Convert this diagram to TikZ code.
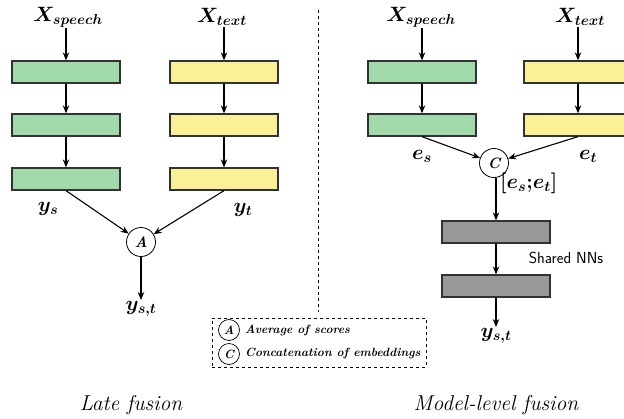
\documentclass[tikz,border=0pt]{standalone}
\usetikzlibrary{arrows.meta,calc}
\DeclareMathSizes{20}{20}{15}{12}
\definecolor{boxgreen}{RGB}{160,218,170}
\definecolor{boxyellow}{RGB}{250,240,150}
\definecolor{boxgray}{RGB}{152,152,152}
\definecolor{edgec}{RGB}{50,50,50}
\begin{document}
\begin{tikzpicture}[x=1pt,y=-1pt,
  layer/.style={draw=edgec,line width=1.3pt,minimum width=108pt,minimum height=22pt,inner sep=0pt},
  gbox/.style={layer,fill=boxgreen},
  ybox/.style={layer,fill=boxyellow},
  sbox/.style={layer,fill=boxgray},
  conn/.style={line width=1.1pt,-{Stealth[length=8pt,width=6.5pt]}},
  op/.style={circle,draw,line width=0.8pt,minimum size=29pt,inner sep=0pt,font=\fontsize{15}{17}\selectfont\bfseries\itshape},
  legop/.style={circle,draw,line width=0.7pt,minimum size=21pt,inner sep=0pt,font=\fontsize{12}{14}\selectfont\bfseries\itshape},
  lab/.style={inner sep=1pt,font=\boldmath\fontsize{20}{24}\selectfont},
  captext/.style={font=\itshape\fontsize{21.5}{25}\selectfont},
  legtext/.style={anchor=west,inner sep=0pt,font=\bfseries\itshape\fontsize{11.9}{14}\selectfont}
]
\clip (0,0) rectangle (624,418);
\fill[white] (0,0) rectangle (624,418);

% ---------- Late fusion ----------
\node[lab] (xs1) at (68,17) {$X_{speech}$};
\node[lab] (xt1) at (222,17) {$X_{text}$};
\node[gbox] (g1) at (66,72) {};
\node[gbox] (g2) at (66,125) {};
\node[gbox] (g3) at (66,179) {};
\node[ybox] (y1) at (224,72) {};
\node[ybox] (y2) at (224,125) {};
\node[ybox] (y3) at (224,179) {};
\draw[conn] (xs1.south -| g1.north) -- (g1.north);
\draw[conn] (g1) -- (g2);
\draw[conn] (g2) -- (g3);
\draw[conn] (xt1.south -| y1.north) -- (y1.north);
\draw[conn] (y1) -- (y2);
\draw[conn] (y2) -- (y3);
\node[op] (A) at (141,242) {A};
\draw[conn] (g3.south) -- (A);
\draw[conn] (y3.south) -- (A);
\node[lab] (ys) at (48,209) {$y_s$};
\node[lab] (yt) at (243,210) {$y_t$};
\node[lab,anchor=north] (yst1) at (141,300) {$y_{s,t}$};
\draw[conn] (A) -- (yst1.north);
\node[captext] (late) at (131,405) {Late fusion};

% ---------- separator ----------
\coordinate (sepT) at (318,10);
\coordinate (sepB) at (318,312);
\draw[dashed,line width=0.7pt] (sepT) -- (sepB);

% ---------- Legend ----------
\node[draw,dashed,line width=0.7pt,minimum width=214pt,minimum height=49pt,inner sep=0pt] (leg) at (319,342.5) {};
\node[legop] (la) at (229,330) {A};
\node[legop] (lc) at (229,354) {C};
\node[legtext] (lat) at (245,330) {Average of scores};
\node[legtext] (lct) at (245,354) {Concatenation of embeddings};

% ---------- Model-level fusion ----------
\node[lab] (xs2) at (421,17) {$X_{speech}$};
\node[lab] (xt2) at (580,17) {$X_{text}$};
\node[gbox] (rg1) at (422,72) {};
\node[gbox] (rg2) at (422,125) {};
\node[ybox] (ry1) at (578,72) {};
\node[ybox] (ry2) at (578,125) {};
\draw[conn] (xs2.south -| rg1.north) -- (rg1.north);
\draw[conn] (rg1) -- (rg2);
\draw[conn] (xt2.south -| ry1.north) -- (ry1.north);
\draw[conn] (ry1) -- (ry2);
\node[op] (C) at (494,163) {C};
\draw[conn] (rg2.south) -- (C);
\draw[conn] (ry2.south) -- (C);
\node[lab] (es) at (422,156) {$e_s$};
\node[lab] (et) at (588,156) {$e_t$};
\node[sbox] (s1) at (496,232) {};
\node[sbox] (s2) at (496,286) {};
\draw[conn] (C.south -| s1.north) -- (s1.north);
\node[lab,anchor=west] (cat) at (499,183) {$[e_s{;}e_t]$};
\draw[conn] (s1) -- (s2);
\node[font=\sffamily\fontsize{16}{18}\selectfont] (shared) at (566,258) {Shared NNs};
\node[lab,anchor=north] (yst2) at (496,327) {$y_{s,t}$};
\draw[conn] (s2.south) -- (yst2.north);
\node[captext] (model) at (496,405) {Model-level fusion};
\end{tikzpicture}
\end{document}
